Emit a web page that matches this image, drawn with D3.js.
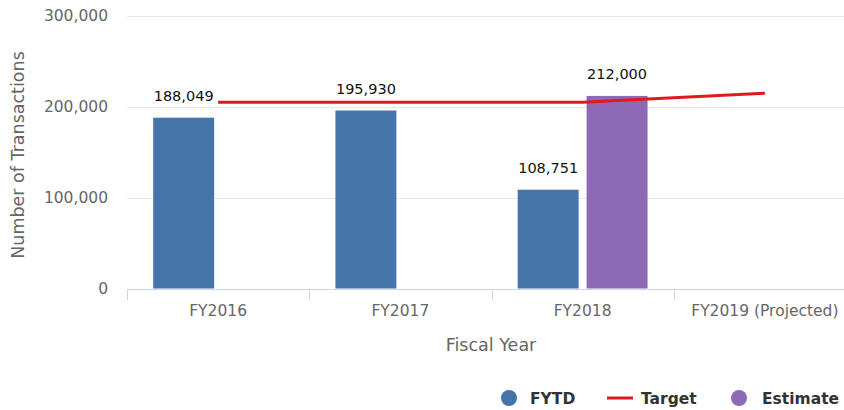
<!DOCTYPE html>
<html>
<head>
<meta charset="utf-8">
<script src="https://cdn.jsdelivr.net/npm/d3@7.9.0/dist/d3.min.js"></script>
<style>
  body { margin: 0; background: #fff; }
  svg text { font-family: "DejaVu Sans", sans-serif; }
</style>
</head>
<body>
<svg id="chart" width="844" height="410"></svg>
<script>
const years = ["FY2016", "FY2017", "FY2018", "FY2019 (Projected)"];
const fytd = [188049, 195930, 108751, null];
const estimate = [null, null, 212000, null];
const target = [205000, 205000, 205000, 215000];
const yTicks = [0, 100000, 200000, 300000];

const svg = d3.select("#chart");

const x0 = d3.scaleBand()
    .domain(years)
    .range([127, 856]);

const x1 = d3.scaleBand()
    .domain(["FYTD", "Estimate"])
    .range([0, x0.bandwidth()])
    .paddingInner(0.116)
    .paddingOuter(0.38);

const y = d3.scaleLinear()
    .domain([0, 300000])
    .range([288.5, 16]);

const fmt = d3.format(",");

// Gridlines
svg.append("g")
    .selectAll("line")
    .data(yTicks.filter(d => d > 0))
    .join("line")
    .attr("x1", 127)
    .attr("x2", 844)
    .attr("y1", d => Math.round(y(d)) + 0.5)
    .attr("y2", d => Math.round(y(d)) + 0.5)
    .attr("stroke", "#e6e6e6")
    .attr("stroke-width", 1);

// Y axis labels
svg.append("g")
    .selectAll("text")
    .data(yTicks)
    .join("text")
    .attr("x", 108)
    .attr("y", d => y(d) + 5)
    .attr("text-anchor", "end")
    .attr("font-size", 15.5)
    .attr("fill", "#666")
    .text(d => fmt(d));

// Y axis title
svg.append("text")
    .attr("transform", `translate(24,155) rotate(-90)`)
    .attr("text-anchor", "middle")
    .attr("font-size", 17.5)
    .attr("fill", "#666")
    .text("Number of Transactions");

// Bars
const series = [
    { name: "FYTD", values: fytd, color: "#4475a9" },
    { name: "Estimate", values: estimate, color: "#8e69b6" }
];

series.forEach(s => {
    const pts = years.map((c, i) => ({ c, v: s.values[i] })).filter(d => d.v != null);
    svg.append("g")
        .selectAll("rect")
        .data(pts)
        .join("rect")
        .attr("x", d => x0(d.c) + x1(s.name))
        .attr("width", x1.bandwidth())
        .attr("y", d => y(d.v))
        .attr("height", d => y(0) - y(d.v))
        .attr("fill", s.color);
});

// X axis line and ticks
svg.append("line")
    .attr("x1", 127).attr("x2", 844)
    .attr("y1", 289.5).attr("y2", 289.5)
    .attr("stroke", "#ccd6eb");

svg.append("g")
    .selectAll("line")
    .data(years)
    .join("line")
    .attr("x1", d => Math.round(x0(d)) + 0.5)
    .attr("x2", d => Math.round(x0(d)) + 0.5)
    .attr("y1", 289)
    .attr("y2", 300)
    .attr("stroke", "#ccd6eb");

svg.append("g")
    .selectAll("text")
    .data(years)
    .join("text")
    .attr("x", d => x0(d) + x0.bandwidth() / 2)
    .attr("y", 316)
    .attr("text-anchor", "middle")
    .attr("font-size", 15.5)
    .attr("fill", "#666")
    .text(d => d);

svg.append("text")
    .attr("x", 491)
    .attr("y", 351)
    .attr("text-anchor", "middle")
    .attr("font-size", 17.5)
    .attr("fill", "#666")
    .text("Fiscal Year");

// Target line
const line = d3.line()
    .x((d, i) => x0(years[i]) + x0.bandwidth() / 2)
    .y(d => y(d));

svg.append("path")
    .attr("d", line(target))
    .attr("fill", "none")
    .attr("stroke", "#e0191e")
    .attr("stroke-width", 3);

// Data labels
series.forEach(s => {
    const pts = years.map((c, i) => ({ c, v: s.values[i] })).filter(d => d.v != null);
    svg.append("g")
        .selectAll("text")
        .data(pts)
        .join("text")
        .attr("x", d => x0(d.c) + x1(s.name) + x1.bandwidth() / 2)
        .attr("y", d => y(d.v) - 17)
        .attr("text-anchor", "middle")
        .attr("font-size", 14.5)
        .attr("fill", "#111")
        .style("paint-order", "stroke")
        .attr("stroke", "#fff")
        .attr("stroke-width", 2)
        .text(d => fmt(d.v));
});

// Legend
const legend = svg.append("g").attr("font-size", 15.5).attr("font-weight", "bold").attr("fill", "#333");
legend.append("circle").attr("cx", 509).attr("cy", 398).attr("r", 8).attr("fill", "#4475a9");
legend.append("text").attr("x", 530).attr("y", 404).text("FYTD");
legend.append("line").attr("x1", 607).attr("x2", 633).attr("y1", 398).attr("y2", 398)
    .attr("stroke", "#e0191e").attr("stroke-width", 3);
legend.append("text").attr("x", 641).attr("y", 404).text("Target");
legend.append("circle").attr("cx", 739).attr("cy", 398).attr("r", 8).attr("fill", "#8e69b6");
legend.append("text").attr("x", 762).attr("y", 404).text("Estimate");
</script>
</body>
</html>
